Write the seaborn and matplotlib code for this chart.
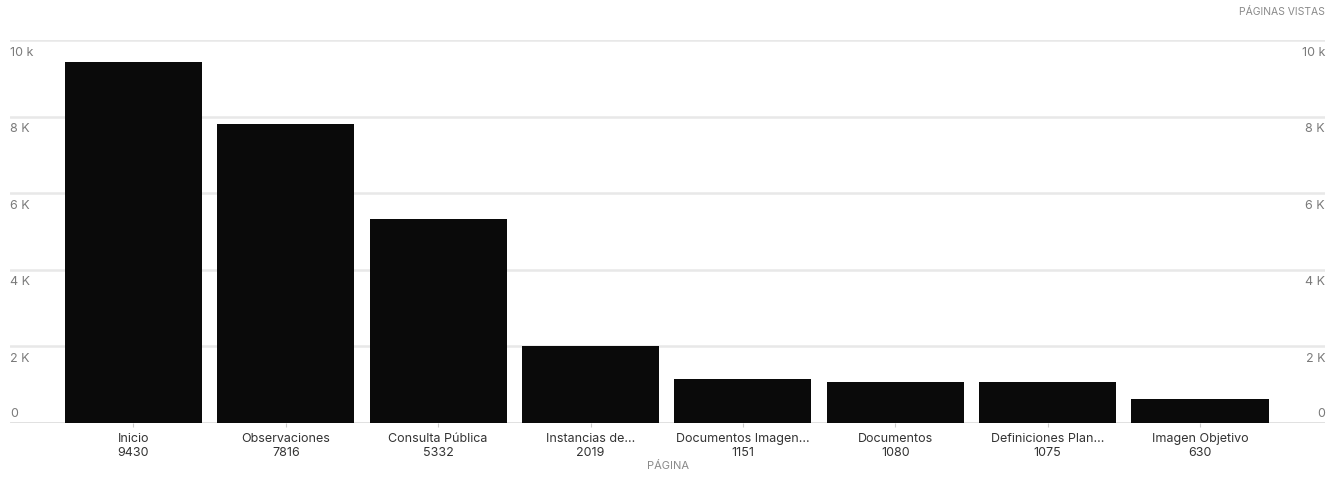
import numpy as np
import pandas as pd
import matplotlib
matplotlib.use("Agg")
import matplotlib.pyplot as plt
import seaborn as sns

# ---------- DATA ----------
PAGES = ["Inicio", "Observaciones", "Consulta Pública", "Instancias de...",
         "Documentos Imagen...", "Documentos", "Definiciones Plan...", "Imagen Objetivo"]
VIEWS = [9430, 7816, 5332, 2019, 1151, 1080, 1075, 630]
Y_TICKS = [0, 2000, 4000, 6000, 8000, 10000]
Y_LABELS = ["0", "2 K", "4 K", "6 K", "8 K", "10 k"]
# ---------------------------

sns.set_theme(style="white")
plt.rcParams['font.family'] = ['Inter', 'DejaVu Sans']

df = pd.DataFrame({"page": PAGES, "views": VIEWS})
tick_text = [f"{p}\n{v}" for p, v in zip(PAGES, VIEWS)]

fig = plt.figure(figsize=(13.39, 4.79), dpi=100)
ax = fig.add_axes([10 / 1339, 1 - 423 / 479, 1315 / 1339, 383 / 479])

sns.barplot(data=df, x="page", y="views", color="#0a0a0a", width=0.9,
            saturation=1, linewidth=0, ax=ax, zorder=3)

ax.set_xlim(-0.81, 7.82)
ax.set_ylim(0, 10000)

# gridlines
for t in Y_TICKS:
    ax.axhline(t, color="#d8d8d8" if t == 0 else "#e8e8e8", lw=1.8, zorder=1)

# y tick labels on both sides, drawn inside the plot area
trans = ax.get_yaxis_transform()
for t, lab in zip(Y_TICKS, Y_LABELS):
    va = "bottom" if t == 0 else "top"
    dy = 90 if t == 0 else -170
    ax.text(0, t + dy, lab, transform=trans, ha="left", va=va,
            fontsize=9, color="#7a7a7a")
    ax.text(1, t + dy, lab, transform=trans, ha="right", va=va,
            fontsize=9, color="#7a7a7a")

ax.set_yticks([])
ax.set_xticks(range(len(PAGES)))
ax.set_xticklabels(tick_text, fontsize=9, color="#333333", linespacing=1.3)
ax.tick_params(axis="x", length=3, width=0.8, color="#cccccc", pad=4, bottom=True)
ax.set_xlabel("PÁGINA", fontsize=8, color="#8a8a8a", labelpad=1)
ax.set_ylabel("")
sns.despine(ax=ax, left=True, right=True, top=True, bottom=True)

fig.text(1325 / 1339, 1 - 12 / 479, "PÁGINAS VISTAS", ha="right", va="center",
         fontsize=7.5, color="#8a8a8a")

fig.savefig("out.png", dpi=100)
